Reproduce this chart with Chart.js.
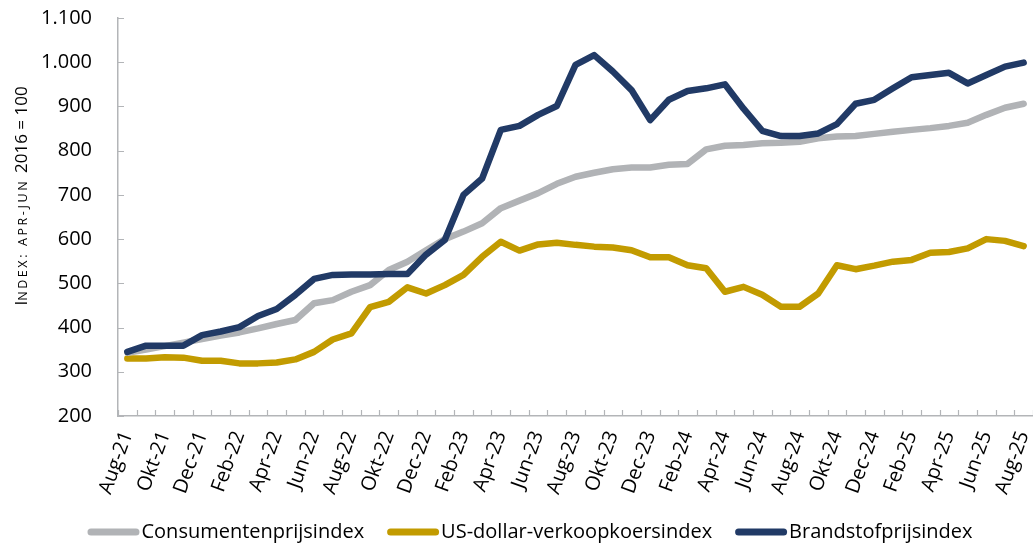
<!DOCTYPE html>
<html>
<head>
<meta charset="utf-8">
<script src="https://cdn.jsdelivr.net/npm/chart.js@4.4.1/dist/chart.umd.min.js"></script>
<style>
  html, body { margin: 0; padding: 0; background: #fff; }
  #wrap { width: 1033px; height: 546px; }
</style>
</head>
<body>
<div id="wrap"><canvas id="chart" width="1033" height="546"></canvas></div>
<script>
// maanden aug-21 t/m aug-25
const months = [
  'Aug-21', 'Sep-21', 'Okt-21', 'Nov-21', 'Dec-21',
  'Jan-22', 'Feb-22', 'Mrt-22', 'Apr-22', 'Mei-22', 'Jun-22', 'Jul-22', 'Aug-22', 'Sep-22', 'Okt-22', 'Nov-22', 'Dec-22',
  'Jan-23', 'Feb-23', 'Mrt-23', 'Apr-23', 'Mei-23', 'Jun-23', 'Jul-23', 'Aug-23', 'Sep-23', 'Okt-23', 'Nov-23', 'Dec-23',
  'Jan-24', 'Feb-24', 'Mrt-24', 'Apr-24', 'Mei-24', 'Jun-24', 'Jul-24', 'Aug-24', 'Sep-24', 'Okt-24', 'Nov-24', 'Dec-24',
  'Jan-25', 'Feb-25', 'Mrt-25', 'Apr-25', 'Mei-25', 'Jun-25', 'Jul-25', 'Aug-25'
];

const cpi = [
  343, 350, 358, 366, 374, 382, 389, 398, 408, 417, 455, 462, 481, 496, 530, 549, 575,
  600, 617, 636, 670, 687, 704, 725, 741, 750, 758, 762, 762,
  768, 770, 803, 811, 813, 817, 818, 820, 828, 832, 833, 838,
  843, 847, 851, 856, 863, 881, 897, 906
];

const usd = [
  330, 330, 333, 332, 325, 325, 319, 319, 321, 328, 345, 373, 387, 446, 458, 491, 477,
  496, 519, 560, 594, 574, 588, 592, 587, 583, 581, 575, 559,
  559, 541, 534, 481, 492, 474, 447, 447, 477, 541, 532, 540,
  549, 553, 569, 571, 579, 600, 596, 584
];

const fuel = [
  345, 359, 359, 359, 383, 391, 401, 426, 442, 474, 510, 519, 520, 520, 521, 521, 565,
  598, 700, 737, 847, 856, 881, 901, 994, 1016, 979, 937, 869,
  915, 935, 941, 950, 895, 845, 833, 833, 839, 860, 906, 915,
  941, 966, 971, 976, 952, 971, 990, 999
];

const seriesNames = ['Consumentenprijsindex', 'US-dollar-verkoopkoersindex', 'Brandstofprijsindex'];
const yMin = 200;
const yMax = 1100;
const yStep = 100;

const AXIS = '#b3b5b8';
const FONT = "'Open Sans', 'Noto Sans', sans-serif";

// duizendtallen met punt
function fmt(v) {
  return v >= 1000 ? Math.floor(v / 1000) + '.' + String(v % 1000).padStart(3, '0') : String(v);
}

// geen extra ruimte rond de assen
function noPad(s) {
  s.paddingTop = 0;
  s.paddingBottom = 0;
  s.paddingLeft = 0;
  s.paddingRight = 0;
}

// kleine streepjes naar binnen op beide assen
const innerTicks = {
  id: 'innerTicks',
  afterDatasetsDraw(chart) {
    const { ctx, scales: { x, y } } = chart;
    ctx.save();
    ctx.strokeStyle = AXIS;
    ctx.lineWidth = 1.2;
    ctx.beginPath();
    for (let v = yMin; v <= yMax; v += yStep) {
      const py = Math.round(y.getPixelForValue(v)) + 0.5;
      ctx.moveTo(x.left, py);
      ctx.lineTo(x.left + 6, py);
    }
    const bin = x.getPixelForValue(1) - x.getPixelForValue(0);
    const first = x.getPixelForValue(0) - bin / 2;
    for (let k = 0; k <= months.length; k++) {
      const px = Math.round(first + k * bin) + 0.5;
      ctx.moveTo(px, y.bottom);
      ctx.lineTo(px, y.bottom - 6);
    }
    ctx.stroke();
    ctx.restore();
  },
};

// astitel in kleinkapitaal
const yTitle = {
  id: 'yTitle',
  afterDraw(chart) {
    const ctx = chart.ctx;
    const parts = [
      { t: 'I', size: 17, sp: 0 },
      { t: 'NDEX: APR-JUN ', size: 12.5, sp: 2.6 },
      { t: '2016 = 100', size: 17, sp: 0 },
    ];
    ctx.save();
    ctx.fillStyle = '#000';
    ctx.textBaseline = 'alphabetic';
    let total = 0;
    parts.forEach((p) => {
      ctx.font = p.size + 'px ' + FONT;
      ctx.letterSpacing = p.sp + 'px';
      p.w = ctx.measureText(p.t).width;
      total += p.w;
    });
    ctx.translate(27, 196);
    ctx.rotate(-Math.PI / 2);
    let cx = -total / 2;
    parts.forEach((p) => {
      ctx.font = p.size + 'px ' + FONT;
      ctx.letterSpacing = p.sp + 'px';
      ctx.fillText(p.t, cx, 0);
      cx += p.w;
    });
    ctx.restore();
  },
};

// legenda onderaan: lijnstuk direct gevolgd door de tekst
const bottomLegend = {
  id: 'bottomLegend',
  afterDraw(chart) {
    const ctx = chart.ctx;
    const lineW = 52;
    const gap = 2;
    const spacing = 23;
    const cy = 532;
    ctx.save();
    ctx.font = '20px ' + FONT;
    const items = chart.data.datasets.map((ds) => ({
      text: ds.label,
      color: ds.borderColor,
      w: ctx.measureText(ds.label).width,
    }));
    const total = items.reduce((a, it) => a + lineW + gap + it.w, 0) + spacing * (items.length - 1);
    let x = 530 - total / 2;
    ctx.textBaseline = 'middle';
    ctx.fillStyle = '#000';
    items.forEach((it) => {
      ctx.strokeStyle = it.color;
      ctx.lineWidth = 7;
      ctx.lineCap = 'round';
      ctx.beginPath();
      ctx.moveTo(x + 3.5, cy);
      ctx.lineTo(x + lineW - 3.5, cy);
      ctx.stroke();
      x += lineW + gap;
      ctx.fillText(it.text, x, cy);
      x += it.w + spacing;
    });
    ctx.restore();
  },
};

const colors = ['#b1b3b6', '#c29b00', '#213a66'];
const values = [cpi, usd, fuel];

new Chart(document.getElementById('chart'), {
  type: 'line',
  data: {
    labels: months,
    datasets: seriesNames.map((name, i) => ({
      label: name,
      data: values[i],
      borderColor: colors[i],
      backgroundColor: colors[i],
      borderWidth: 6.5,
      borderJoinStyle: 'round',
      borderCapStyle: 'round',
      pointRadius: 0,
      tension: 0,
      order: [1, 2, 0][i],
    })),
  },
  options: {
    responsive: false,
    animation: false,
    devicePixelRatio: 1,
    layout: { padding: { top: 18, right: 0, bottom: 46, left: 0 } },
    scales: {
      x: {
        offset: true,
        grid: { display: false, drawTicks: false },
        border: { display: true, color: AXIS, width: 1.5 },
        ticks: {
          autoSkip: false,
          minRotation: 70,
          maxRotation: 70,
          padding: 12,
          color: '#000',
          font: { family: FONT, size: 20 },
          callback: (v, i) => (i % 2 === 0 ? months[i] : ''),
        },
        afterFit: (s) => { s.height = 84; noPad(s); },
      },
      y: {
        min: yMin,
        max: yMax,
        grid: { display: false, drawTicks: false },
        border: { display: true, color: AXIS, width: 1.5 },
        ticks: {
          stepSize: yStep,
          padding: 26,
          color: '#000',
          font: { family: FONT, size: 20 },
          callback: (v) => fmt(v),
        },
        afterFit: (s) => { s.width = 118; noPad(s); },
      },
    },
    plugins: {
      tooltip: { enabled: false },
      legend: { display: false },
    },
  },
  plugins: [innerTicks, yTitle, bottomLegend],
});
</script>
</body>
</html>
